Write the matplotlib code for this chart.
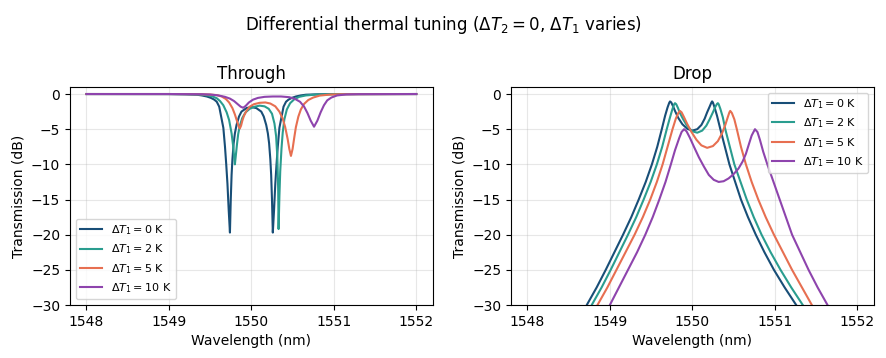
import matplotlib
matplotlib.use('Agg')
import matplotlib.pyplot as plt

# temperature offsets of ring 1 (K)
dT1 = [0, 2, 5, 10]
colors = ['#184e77', '#2a9d8f', '#e76f51', '#8e44ad']

# through port (nm, dB)
thru_wl_0 = [1548.0, 1549.0, 1549.2, 1549.34, 1549.40, 1549.46, 1549.51, 1549.55, 1549.58, 1549.61, 1549.64,
             1549.66, 1549.68, 1549.695, 1549.71, 1549.725, 1549.74,
             1549.75, 1549.76, 1549.77, 1549.785, 1549.80, 1549.82, 1549.85, 1549.88, 1549.94, 1550.00,
             1550.06, 1550.12, 1550.15, 1550.18, 1550.20, 1550.215, 1550.23, 1550.24, 1550.25, 1550.26,
             1550.275, 1550.29, 1550.305, 1550.32, 1550.34, 1550.36, 1550.39, 1550.42, 1550.45, 1550.49,
             1550.54, 1550.60, 1550.66, 1550.8, 1551.0, 1552.0]
thru_db_0 = [0, -0.01, -0.04, -0.1, -0.2, -0.35, -0.55, -0.8, -1.1, -1.8, -3.6,
             -4.8, -7.5, -10.0, -12.8, -16.5, -19.7,
             -15.0, -11.5, -9.3, -7.0, -5.6, -4.4, -3.2, -2.5, -2.0, -1.85,
             -2.0, -2.5, -3.2, -4.4, -5.6, -7.0, -9.3, -11.5, -15.0, -19.7,
             -16.5, -12.8, -10.0, -7.5, -4.8, -3.6, -1.8, -1.1, -0.8, -0.55,
             -0.35, -0.2, -0.1, -0.04, -0.01, 0]

thru_wl_2 = [1548.0, 1549.0, 1549.3, 1549.40, 1549.47, 1549.53, 1549.58, 1549.62, 1549.66, 1549.70, 1549.73,
             1549.76, 1549.78, 1549.79, 1549.80, 1549.81, 1549.825, 1549.84, 1549.86, 1549.89, 1549.93,
             1549.98, 1550.04, 1550.10, 1550.16, 1550.21, 1550.25, 1550.28, 1550.30, 1550.315, 1550.325,
             1550.33, 1550.34, 1550.35, 1550.365, 1550.38, 1550.40, 1550.43, 1550.47, 1550.52, 1550.58,
             1550.66, 1550.78, 1551.0, 1552.0]
thru_db_2 = [0, 0, -0.04, -0.1, -0.2, -0.35, -0.6, -1.0, -1.6, -2.6, -3.7,
             -5.6, -7.5, -8.8, -10.0, -8.9, -7.2, -5.7, -4.5, -3.4, -2.6,
             -2.1, -1.8, -1.65, -1.75, -2.1, -2.8, -4.2, -6.0, -9.0, -13.5,
             -19.2, -14.5, -11.0, -7.8, -5.5, -3.6, -2.2, -1.3, -0.75, -0.4,
             -0.2, -0.08, -0.02, 0]

thru_wl_5 = [1548.0, 1549.0, 1549.4, 1549.5, 1549.58, 1549.64, 1549.69, 1549.73, 1549.77, 1549.80, 1549.83,
             1549.85, 1549.86, 1549.875, 1549.89, 1549.91, 1549.94, 1549.98, 1550.03, 1550.10, 1550.17,
             1550.23, 1550.29, 1550.34, 1550.38, 1550.41, 1550.44, 1550.46, 1550.48, 1550.50, 1550.52,
             1550.54, 1550.57, 1550.60, 1550.64, 1550.69, 1550.75, 1550.83, 1550.95, 1551.1, 1552.0]
thru_db_5 = [0, 0, -0.03, -0.07, -0.15, -0.35, -0.7, -1.2, -2.0, -2.9, -4.0,
             -4.7, -4.9, -4.5, -3.8, -3.1, -2.4, -1.8, -1.45, -1.25, -1.2,
             -1.35, -1.75, -2.5, -3.5, -4.7, -6.4, -7.8, -8.8, -7.8, -6.2,
             -4.7, -3.2, -2.2, -1.4, -0.85, -0.5, -0.22, -0.08, -0.03, 0]

thru_wl_10 = [1548.0, 1549.0, 1549.4, 1549.5, 1549.6, 1549.68, 1549.74, 1549.79, 1549.83, 1549.87, 1549.90,
              1549.93, 1549.97, 1550.02, 1550.08, 1550.16, 1550.26, 1550.36, 1550.46, 1550.53, 1550.59,
              1550.64, 1550.68, 1550.72, 1550.76, 1550.80, 1550.84, 1550.88, 1550.92, 1550.97, 1551.04,
              1551.15, 1551.3, 1552.0]
thru_db_10 = [0, 0, -0.03, -0.07, -0.2, -0.4, -0.65, -1.0, -1.4, -1.8, -1.95,
              -1.7, -1.2, -0.8, -0.55, -0.4, -0.35, -0.35, -0.45, -0.7, -1.1,
              -1.8, -2.7, -3.8, -4.65, -3.8, -2.6, -1.6, -0.9, -0.5, -0.2,
              -0.06, -0.02, 0]

# drop port (nm, dB)
drop_wl_0 = [1548.70, 1548.72, 1548.84, 1548.95, 1549.055, 1549.16, 1549.26, 1549.35, 1549.435, 1549.51, 1549.575,
             1549.63, 1549.67, 1549.70, 1549.72, 1549.73, 1549.745, 1549.765, 1549.79, 1549.83, 1549.88,
             1549.94, 1550.00, 1550.06, 1550.11, 1550.15, 1550.18, 1550.21, 1550.23, 1550.24, 1550.25,
             1550.27, 1550.30, 1550.34, 1550.395, 1550.45, 1550.52, 1550.59, 1550.675, 1550.77, 1550.875,
             1550.99, 1551.12, 1551.26, 1551.29]
drop_db_0 = [-31, -30, -27.5, -25, -22.5, -20, -17.5, -15, -12.5, -10, -7.5,
             -5, -3.1, -1.9, -1.25, -1.05, -1.2, -1.7, -2.4, -3.4, -4.3,
             -4.95, -5.2, -5.0, -4.4, -3.5, -2.6, -1.8, -1.25, -1.05, -1.2,
             -1.9, -3.1, -5, -7.5, -10, -12.5, -15, -17.5, -20, -22.5,
             -25, -27.5, -30, -30.6]

drop_wl_2 = [1548.76, 1548.78, 1548.90, 1549.01, 1549.115, 1549.22, 1549.32, 1549.41, 1549.495, 1549.57, 1549.635,
             1549.69, 1549.73, 1549.76, 1549.78, 1549.79, 1549.805, 1549.825, 1549.85, 1549.89, 1549.94,
             1550.00, 1550.06, 1550.12, 1550.17, 1550.21, 1550.25, 1550.28, 1550.30, 1550.31, 1550.32,
             1550.34, 1550.37, 1550.40, 1550.455, 1550.51, 1550.585, 1550.66, 1550.745, 1550.84, 1550.95,
             1551.07, 1551.20, 1551.34, 1551.37]
drop_db_2 = [-31, -30, -27.5, -25, -22.5, -20, -17.5, -15, -12.5, -10, -7.5,
             -5, -3.3, -2.1, -1.45, -1.3, -1.45, -1.95, -2.7, -3.6, -4.6,
             -5.3, -5.5, -5.2, -4.5, -3.6, -2.6, -1.8, -1.4, -1.3, -1.45,
             -2.1, -3.3, -5, -7.5, -10, -12.5, -15, -17.5, -20, -22.5,
             -25, -27.5, -30, -30.6]

drop_wl_5 = [1548.83, 1548.85, 1548.97, 1549.08, 1549.19, 1549.30, 1549.40, 1549.49, 1549.57, 1549.64, 1549.70,
             1549.76, 1549.80, 1549.83, 1549.85, 1549.87, 1549.90, 1549.94, 1549.99, 1550.05, 1550.11,
             1550.18, 1550.25, 1550.31, 1550.36, 1550.40, 1550.43, 1550.45, 1550.46, 1550.48, 1550.51,
             1550.54, 1550.59, 1550.65, 1550.72, 1550.80, 1550.89, 1550.99, 1551.10, 1551.21, 1551.33,
             1551.45, 1551.48]
drop_db_5 = [-31, -30, -27.5, -25, -22.5, -20, -17.5, -15, -12.5, -10, -7.5,
             -5, -3.5, -2.7, -2.4, -2.6, -3.3, -4.3, -5.4, -6.5, -7.3,
             -7.65, -7.4, -6.7, -5.6, -4.4, -3.3, -2.6, -2.4, -2.7, -3.6,
             -5, -7.5, -10, -12.5, -15, -17.5, -20, -22.5, -25, -27.5,
             -30, -30.6]

drop_wl_10 = [1548.98, 1549.00, 1549.11, 1549.22, 1549.33, 1549.43, 1549.52, 1549.60, 1549.675, 1549.74, 1549.79,
              1549.84, 1549.87, 1549.90, 1549.93, 1549.97, 1550.02, 1550.08, 1550.14, 1550.20, 1550.26,
              1550.32, 1550.38, 1550.44, 1550.50, 1550.56, 1550.61, 1550.65, 1550.69, 1550.72, 1550.76,
              1550.79, 1550.82, 1550.86, 1550.91, 1550.985, 1551.06, 1551.135, 1551.21, 1551.31, 1551.41,
              1551.52, 1551.64, 1551.67]
drop_db_10 = [-31, -30, -27.5, -25, -22.5, -20, -17.5, -15, -12.5, -10, -8,
              -6.3, -5.4, -5.0, -5.3, -6.2, -7.5, -9.0, -10.3, -11.5, -12.2,
              -12.5, -12.4, -12.0, -11.4, -10.6, -9.6, -8.5, -7.0, -5.9, -5.0,
              -5.4, -6.5, -8.2, -10, -12.5, -15, -17.5, -20, -22.5, -25,
              -27.5, -30, -30.6]

thru_wl = [thru_wl_0, thru_wl_2, thru_wl_5, thru_wl_10]
thru_db = [thru_db_0, thru_db_2, thru_db_5, thru_db_10]
drop_wl = [drop_wl_0, drop_wl_2, drop_wl_5, drop_wl_10]
drop_db = [drop_db_0, drop_db_2, drop_db_5, drop_db_10]

fig = plt.figure(figsize=(8.87, 3.58), dpi=100)
ax1 = fig.add_axes([0.0789, 0.148, 0.409, 0.609])
ax2 = fig.add_axes([0.576, 0.148, 0.409, 0.609])

for i in range(len(dT1)):
    lab = r'$\Delta T_1 = %d$ K' % dT1[i]
    ax1.plot(thru_wl[i], thru_db[i], color=colors[i], lw=1.5, label=lab)
    ax2.plot(drop_wl[i], drop_db[i], color=colors[i], lw=1.5, label=lab)

for ax, ttl in [(ax1, 'Through'), (ax2, 'Drop')]:
    ax.set_xlim(1547.8, 1552.2)
    ax.set_ylim(-30, 1)
    ax.set_xticks([1548, 1549, 1550, 1551, 1552])
    ax.set_yticks([0, -5, -10, -15, -20, -25, -30])
    ax.set_xlabel('Wavelength (nm)')
    ax.set_ylabel('Transmission (dB)')
    ax.set_title(ttl)
    ax.grid(True, alpha=0.3)

ax1.legend(loc='lower left', fontsize=8)
ax2.legend(loc='upper right', fontsize=8)

fig.suptitle(r'Differential thermal tuning ($\Delta T_2 = 0$, $\Delta T_1$ varies)', fontsize=12, y=0.96)

fig.savefig('out.png', dpi=100)
